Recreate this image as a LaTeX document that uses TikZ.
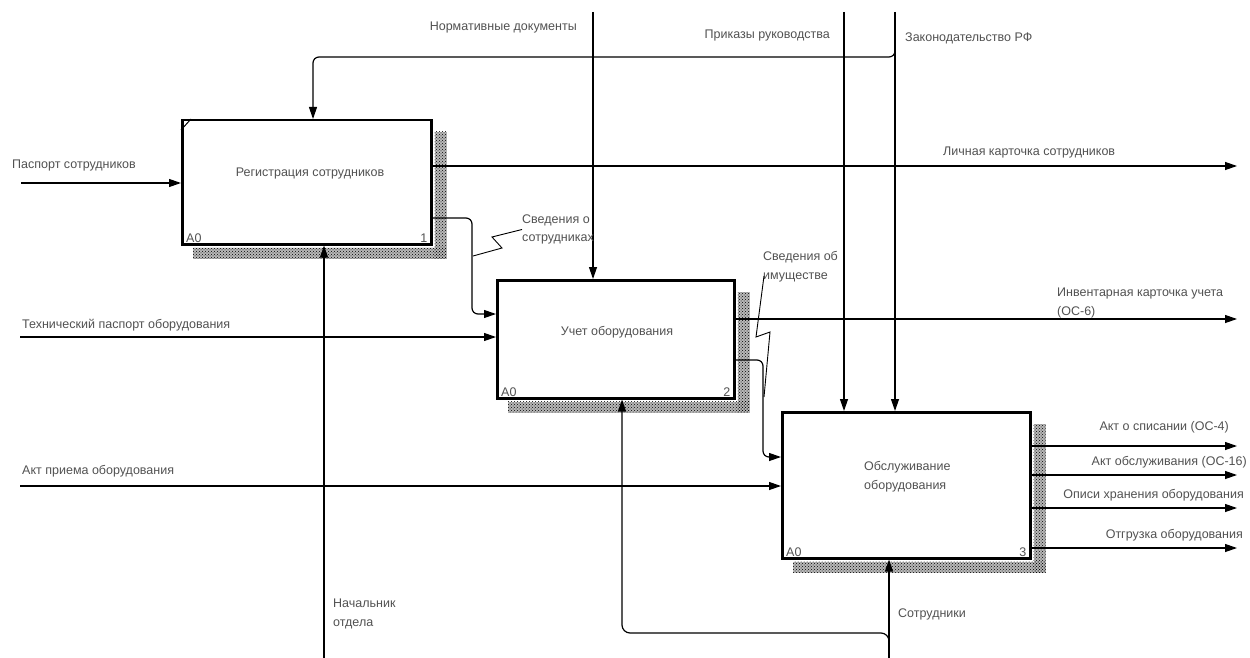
\documentclass[tikz,border=0pt]{standalone}
\usepackage{fontspec}
\setmainfont{Liberation Sans}
\usetikzlibrary{arrows.meta,patterns,calc}
\begin{document}
\begin{tikzpicture}[x=1pt,y=-1pt,
  fn/.style={draw, line width=2.5pt, fill=white, anchor=north west, inner sep=0pt},
  flow/.style={line width=1.2pt, -{Triangle[length=12pt,width=8pt]}},
  lead/.style={line width=0.9pt},
  lbl/.style={font=\fontsize{12.5}{18.5}\selectfont, text=black!68, inner sep=0pt, align=left},
  hatchbase/.style={fill=black!28},
  hatch/.style={pattern=crosshatch dots, pattern color=black},
  softturn/.style={rounded corners=6pt}
]
\fill[white] (0,0) rectangle (1250,658);
\useasboundingbox (0,0) rectangle (1250,658);

% --- activity boxes -------------------------------------------------
\node[fn, minimum width=249pt, minimum height=124pt] (b1) at (181,119) {};
\node[fn, minimum width=237pt, minimum height=118pt] (b2) at (496,279) {};
\node[fn, minimum width=248pt, minimum height=146pt] (b3) at (781,411) {};

% hatched shadows on the right and bottom sides
\foreach \b in {b1,b2,b3}{
  \fill[hatchbase] ($(\b.north east)+(2,13)$) rectangle ($(\b.south east)+(14,13)$);
  \fill[hatchbase] ($(\b.south west)+(12,2)$) rectangle ($(\b.south east)+(14,13)$);
  \fill[hatch] ($(\b.north east)+(2,13)$) rectangle ($(\b.south east)+(14,13)$);
  \fill[hatch] ($(\b.south west)+(12,2)$) rectangle ($(\b.south east)+(14,13)$);
}
% corner mark of the first box
\draw[line width=1pt] ($(b1.north west)+(0,11)$) -- ($(b1.north west)+(10,0)$);

% box titles
\node[lbl] (t1) at (310,173) {Регистрация сотрудников};
\node[lbl] (t2) at (617,332) {Учет оборудования};
\node[lbl, anchor=west] (t3) at (864,476.5) {Обслуживание\\оборудования};

% node numbers
\node[lbl, anchor=south west] (n1a) at ($(b1.south west)+(5,-3)$) {A0};
\node[lbl, anchor=south east] (n1b) at ($(b1.south east)+(-5,-3)$) {1};
\node[lbl, anchor=south west] (n2a) at ($(b2.south west)+(5,-3)$) {A0};
\node[lbl, anchor=south east] (n2b) at ($(b2.south east)+(-5,-3)$) {2};
\node[lbl, anchor=south west] (n3a) at ($(b3.south west)+(5,-3)$) {A0};
\node[lbl, anchor=south east] (n3b) at ($(b3.south east)+(-5,-3)$) {3};

% --- inputs ----------------------------------------------------------
\coordinate (pass) at (21,183);
\draw[flow] (pass) -- (pass -| b1.west);
\node[lbl, anchor=west] (lpass) at (12,165) {Паспорт сотрудников};

\coordinate (tech) at (20,337);
\draw[flow] (tech) -- (tech -| b2.west);
\node[lbl, anchor=west] (ltech) at (22,325) {Технический паспорт оборудования};

\coordinate (akt) at (20,486);
\draw[flow] (akt) -- (akt -| b3.west);
\node[lbl, anchor=west] (lakt) at (22,471) {Акт приема оборудования};

% --- controls --------------------------------------------------------
\coordinate (norm) at (593,12);
\draw[flow] (norm) -- (norm |- b2.north);
\node[lbl, anchor=east] (lnorm) at (577,27) {Нормативные документы};

\coordinate (prik) at (844,12);
\draw[flow] (prik) -- (prik |- b3.north);
\node[lbl, anchor=east] (lprik) at (830,35) {Приказы руководства};

\coordinate (zak) at (895,12);
\draw[flow] (zak) -- (zak |- b3.north);
\node[lbl, anchor=west] (lzak) at (905,38) {Законодательство РФ};
\coordinate (zakj) at (895,47);
\coordinate (zk1) at (895,57);
\coordinate (zk2) at (313,57);
\draw[flow, softturn] (zakj) -- (zk1) -- (zk2) -- (zk2 |- b1.north);

% --- mechanisms ------------------------------------------------------
\coordinate (nach) at (324,658);
\draw[flow] (nach) -- (nach |- b1.south);
\node[lbl, anchor=west] (lnach) at (333,614) {Начальник\\отдела};

\coordinate (sot) at (889,658);
\draw[flow] (sot) -- (sot |- b3.south);
\node[lbl, anchor=west] (lsot) at (898,614) {Сотрудники};
\coordinate (sotj) at (889,648);
\coordinate (st1) at (889,633);
\coordinate (st2) at (622,633);
\draw[flow, rounded corners=8pt] (sotj) -- (st1) -- (st2) -- (st2 |- b2.south);

% --- flows between boxes ---------------------------------------------
\coordinate (sv1) at (472,218);
\coordinate (sv2) at (472,314);
\draw[flow, softturn] (b1.east |- sv1) -- (sv1) -- (sv2) -- (b2.west |- sv2);
\node[lbl, anchor=west] (lsv) at (522,229.5) {Сведения о\\сотрудниках};
\draw[lead] (lsv.west) -- (492,237) -- (502,248) -- (473,256);

\coordinate (im1) at (763,360);
\coordinate (im2) at (763,457);
\draw[flow, softturn] (b2.east |- im1) -- (im1) -- (im2) -- (b3.west |- im2);
\node[lbl, anchor=west] (lim) at (763,266.5) {Сведения об\\имуществе};
\draw[lead] (764,276) -- (756,337) -- (770,332) -- (764,397);

% --- outputs ---------------------------------------------------------
\coordinate (lich) at (1237,166);
\draw[flow] (lich -| b1.east) -- (lich);
\node[lbl, anchor=west] (llich) at (943,152) {Личная карточка сотрудников};

\coordinate (inv) at (1237,319);
\draw[flow] (inv -| b2.east) -- (inv);
\node[lbl, anchor=west] (linv) at (1057,303) {Инвентарная карточка учета\\(ОС-6)};

\coordinate (o1) at (1237,446);
\coordinate (o2) at (1237,475);
\coordinate (o3) at (1237,508);
\coordinate (o4) at (1237,548);
\draw[flow] (o1 -| b3.east) -- (o1);
\draw[flow] (o2 -| b3.east) -- (o2);
\draw[flow] (o3 -| b3.east) -- (o3);
\draw[flow] (o4 -| b3.east) -- (o4);
\node[lbl, anchor=east] (lo1) at (1229,427) {Акт о списании (ОС-4)};
\node[lbl, anchor=east] (lo2) at (1247,462) {Акт обслуживания (ОС-16)};
\node[lbl, anchor=east] (lo3) at (1244,495) {Описи хранения оборудования};
\node[lbl, anchor=east] (lo4) at (1243,535) {Отгрузка оборудования};
\end{tikzpicture}
\end{document}
